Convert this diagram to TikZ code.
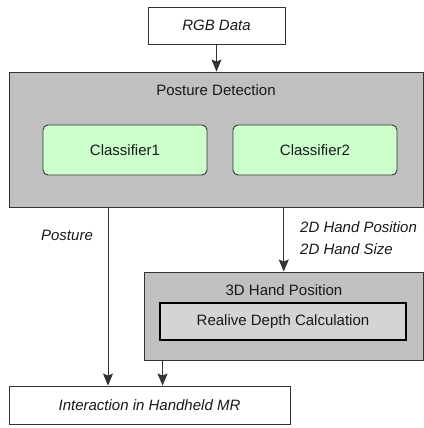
\documentclass[tikz,border=0pt]{standalone}
\usepackage{fontspec}
\setmainfont{Liberation Sans}
\usetikzlibrary{calc}
\usetikzlibrary{arrows.meta}
\usetikzlibrary{positioning}
\definecolor{boxgray}{HTML}{C0C0C0}
\definecolor{depthgray}{HTML}{D4D4D4}
\definecolor{clsgreen}{HTML}{CCFFCC}
\definecolor{linegray}{HTML}{333333}
\tikzset{%
  plainbox/.style={rectangle,draw=linegray,fill=white,line width=0.9pt,inner sep=0pt,font=\itshape},
  groupbox/.style={rectangle,draw=linegray,fill=boxgray,line width=0.9pt,inner sep=0pt},
  clsbox/.style={rectangle,rounded corners=5pt,draw=linegray,fill=clsgreen,line width=0.9pt,
    inner sep=0pt,minimum width=164pt,minimum height=50pt},
  depthbox/.style={rectangle,draw=black,fill=depthgray,line width=1.5pt,inner sep=0pt},
  flow/.style={draw=linegray,line width=0.9pt,-{Stealth[length=12pt,width=10pt,inset=2pt]}},
  edgelabel/.style={font=\itshape,inner sep=0pt}
}

\begin{document}
\begin{tikzpicture}[x=1pt,y=-1pt,node font=\fontsize{15}{18}\selectfont,text=black!90]
    \useasboundingbox (0,0) rectangle (423,428);
    \node[plainbox,minimum width=137pt,minimum height=37pt] (rgb) at (216.5,25.5) {RGB Data};
    \node[groupbox,minimum width=414.5pt,minimum height=135pt] (pd) at (216.25,139.5) {};
    \node (pdtitle) at (216,90) {Posture Detection};
    \node[clsbox] (cls1) at (125,150) {Classifier1};
    \node[clsbox] (cls2) at (315,150) {Classifier2};
    \node[groupbox,minimum width=279.5pt,minimum height=88pt] (hand3d) at (283.75,316) {};
    \node (hdtitle) at (284,290) {3D Hand Position};
    \node[depthbox,minimum width=246pt,minimum height=37pt] (depth) at (283,321.5) {Realive Depth Calculation};
    \node[plainbox,minimum width=281pt,minimum height=38pt] (inter) at (149.5,405) {Interaction in Handheld MR};
    % edge labels
    \node[edgelabel] (postlbl) at (67,235) {Posture};
    \node[edgelabel,anchor=west] (hpos) at (300,227) {2D Hand Position};
    \node[edgelabel,anchor=west] (hsize) at (300,249) {2D Hand Size};
    % connectors
    \coordinate (postx) at (108,0);
    \coordinate (depthout) at ($(hand3d.south west)+(19,0)$);
    \draw[flow] (rgb) -- (pd.north -| rgb.south);
    \draw[flow] (postx |- pd.south) -- (postx |- inter.north);
    \draw[flow] (pd.south -| hand3d.north) -- (hand3d.north);
    \draw[flow] (depthout) -- (depthout |- inter.north);
\end{tikzpicture}
\end{document}
